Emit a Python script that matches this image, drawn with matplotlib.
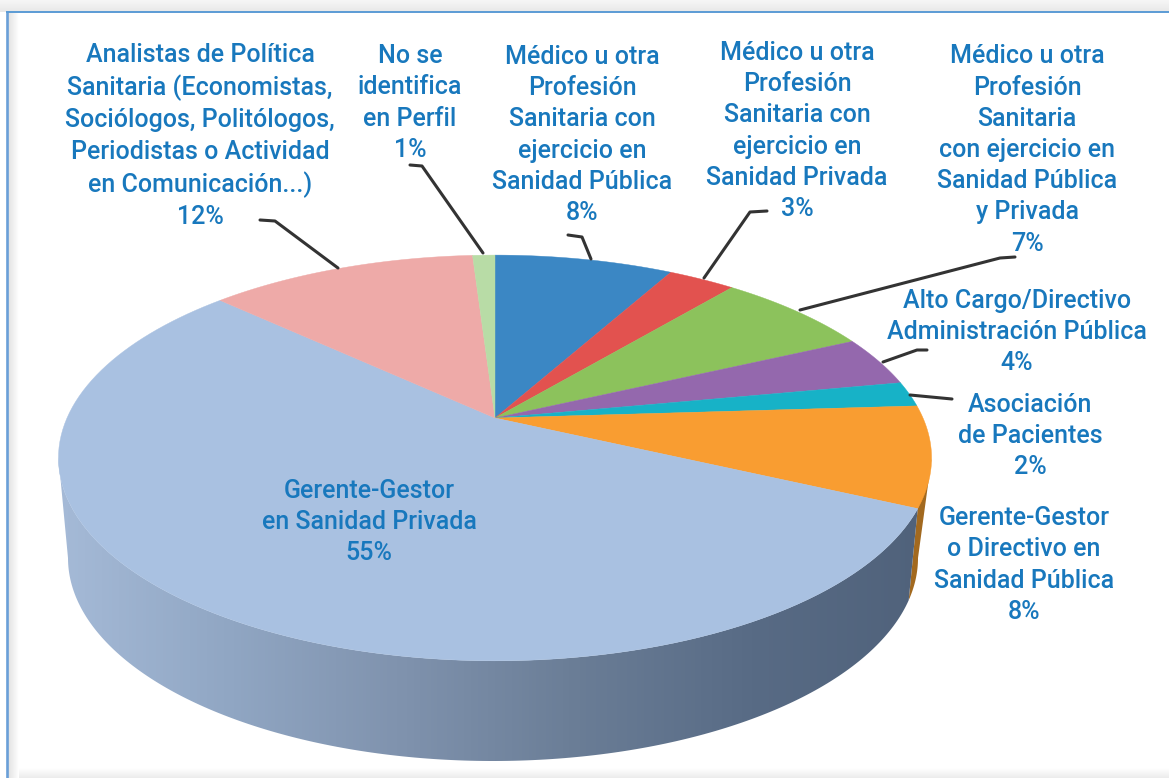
import numpy as np
import matplotlib
matplotlib.use('Agg')
import matplotlib.pyplot as plt
from matplotlib.colors import LinearSegmentedColormap
from matplotlib.patches import Polygon

# slices, clockwise from the top
values = [8, 3, 7, 4, 2, 8, 55, 12, 1]
colors = ['#3b87c4', '#e2524f', '#8cc25c', '#9468ad', '#17b2c7',
          '#f99d31', '#a9c1e1', '#eeaaa8', '#b8dca6']

labels = [
    'Analistas de Política\nSanitaria (Economistas,\nSociólogos, Politólogos,\nPeriodistas o Actividad\nen Comunicación...)\n12%',
    'No se\nidentifica\nen Perfil\n1%',
    'Médico u otra\nProfesión\nSanitaria con\nejercicio en\nSanidad Pública\n8%',
    'Médico u otra\nProfesión\nSanitaria con\nejercicio en\nSanidad Privada\n3%',
    'Médico u otra\nProfesión\nSanitaria\ncon ejercicio en\nSanidad Pública\ny Privada\n7%',
    'Alto Cargo/Directivo\nAdministración Pública\n4%',
    'Asociación\nde Pacientes\n2%',
    'Gerente-Gestor\no Directivo en\nSanidad Pública\n8%',
    'Gerente-Gestor\nen Sanidad Privada\n55%',
]
label_x = [200, 410, 582, 797, 1027, 1017, 1030, 1024, 369]
label_y = [136, 103, 135, 131, 150, 332, 436, 565, 522]

leaders = [
    [(260, 220), (275, 221), (338, 268)],
    [(410, 165), (422, 166), (483, 253)],
    [(568, 235), (582, 237), (591, 259)],
    [(767, 211), (750, 212), (704, 278)],
    [(1015, 257), (1000, 258), (800, 310)],
    [(927, 350), (917, 350), (883, 362)],
    [(952, 399), (910, 395)],
]

side_stops = ['#a5bad7', '#90a6c3', '#7f92ad', '#6a7d96', '#586b85', '#50627b']

# tilted disc, apex sits above the centre of the ellipse
apex_x, apex_y = 495, 418
disc_a, disc_b, tilt = 428, 195, 0.197
low_x, low_y, low_a, low_b = 493, 558, 425, 203


def project(ang):
	# ang is clockwise from the top, radians
	u = np.sin(ang)
	v = np.cos(ang)
	d = 1 + tilt * v
	return apex_x + disc_a * u / d, apex_y - disc_b * v / d


def low_edge(t):
	return low_x + low_a * np.cos(t), low_y + low_b * np.sin(t)


def shade(ax, extent, start, end, vertical):
	# soft grey band around the page
	cm = LinearSegmentedColormap.from_list('band', [start, end])
	g = np.linspace(0, 1, 32)
	g = g[:, None] if vertical else g[None, :]
	ax.imshow(g, cmap=cm, aspect='auto', extent=extent, zorder=0, origin='upper')


def main():
	fig = plt.figure(figsize=(11.69, 7.78), dpi=100)
	ax = fig.add_axes([0, 0, 1, 1])
	ax.axis('off')

	# page frame
	shade(ax, [0, 1169, 12, 0], '#f6f6f6', '#e8e8e8', True)
	shade(ax, [8, 1169, 778, 768], '#ffffff', '#ececec', True)
	shade(ax, [8, 19, 778, 12], '#e2e2e2', '#ffffff', False)
	ax.plot([7, 7], [778, 12], color='#6a9fd8', lw=1.9)
	ax.plot([7, 1169], [12, 12], color='#5b9bd5', lw=1.4)

	edges = np.cumsum([0] + values) / sum(values) * 2 * np.pi

	# orange sliver behind, gradient wall in front
	lx, ly = low_edge(np.radians(np.linspace(0, 12, 30)))
	sx, sy = project(np.linspace(edges[5], edges[6], 60))
	far = np.argmax(sx)
	ax.add_patch(Polygon(np.vstack([np.column_stack([sx[far:far + 1], sy[far:far + 1]]),
		np.column_stack([lx, ly]), [[sx[-1], sy[-1]]]]),
		closed=True, fc='#a2691f', ec='none', zorder=1))

	# wall runs from the lavender/orange edge to the left extreme of the disc
	wx, wy = low_edge(np.radians(np.linspace(12, 180, 200)))
	ang = np.linspace(edges[6], edges[7], 300)
	tx, ty = project(ang)
	left = np.argmin(tx)
	wall = Polygon(np.vstack([np.column_stack([wx, wy]), np.column_stack([tx[:left + 1][::-1], ty[:left + 1][::-1]])]),
		closed=True, fc='none', ec='none')
	ax.add_patch(wall)
	cmap = LinearSegmentedColormap.from_list('side', side_stops)
	im = ax.imshow(np.linspace(0, 1, 256)[None, :], cmap=cmap, aspect='auto',
		extent=[58, 925, 778, 0], zorder=1)
	im.set_clip_path(wall)
	ax.set_xlim(0, 1169)
	ax.set_ylim(778, 0)

	# top face
	for i, val in enumerate(values):
		a = np.linspace(edges[i], edges[i + 1], 120)
		x, y = project(a)
		pts = np.column_stack([np.r_[apex_x, x], np.r_[apex_y, y]])
		ax.add_patch(Polygon(pts, closed=True, fc=colors[i], ec=colors[i], lw=0.3, zorder=2))

	for pts in leaders:
		ax.plot([p[0] for p in pts], [p[1] for p in pts], color='#333333', lw=2.2,
			solid_capstyle='round', zorder=3)

	for txt, x, y in zip(labels, label_x, label_y):
		ax.text(x, y, txt, ha='center', va='center', color='#1878bd', fontsize=18,
			family='Roboto', weight='medium', linespacing=1.38, zorder=4)

	fig.savefig('out.png', dpi=100)


if __name__ == '__main__':
	main()
